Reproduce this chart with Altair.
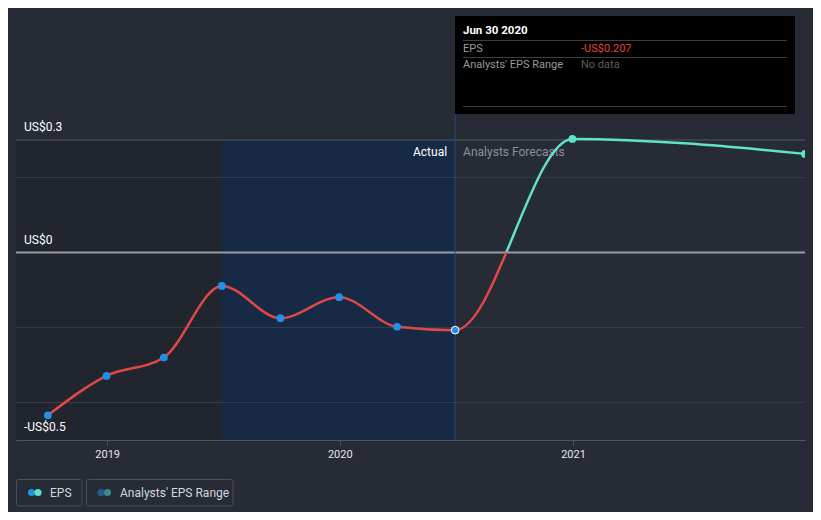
import altair as alt
import pandas as pd

# ---------------- data ----------------
actual_dates = ["2018-09-30", "2018-12-31", "2019-03-31", "2019-06-30",
                "2019-09-30", "2019-12-31", "2020-03-31", "2020-06-30"]
actual_eps = [-0.434, -0.329, -0.280, -0.089, -0.175, -0.119, -0.198, -0.207]
forecast_dates = ["2020-12-31", "2021-12-31"]
forecast_eps = [0.303, 0.263]

grid_major = [0.3]
grid_minor = [0.2, -0.2, -0.4]
zero_line = [0.0]
ylabel_values = [0.3, 0.0, -0.5]
ylabel_texts = ["US$0.3", "US$0", "-US$0.5"]
x_tick_years = [2019, 2020, 2021]

band_past_start, band_past_end = "2018-08-11", "2019-06-30"
band_actual_start, band_actual_end = "2019-06-30", "2020-06-30"
band_top, band_bottom = 0.3, -0.5
split_date = "2020-06-30"

# ---------------- styling ----------------
BG = "#262b36"
RED = "#e04848"
TEAL = "#5fe3c9"
BLUE = "#2290e6"
FONT = "Roboto"

W, H = 789, 432

xscale = alt.Scale(type="utc",
                   domain=[alt.DateTime(year=2018, month=8, date=11, utc=True),
                           alt.DateTime(year=2021, month=12, date=31, utc=True)])
yscale = alt.Scale(domain=[-0.5, 0.652], nice=False, zero=False)
xaxis = alt.Axis(title=None, grid=False,
                 values=[alt.DateTime(year=y, month=1, date=1, utc=True) for y in x_tick_years],
                 format="%Y", labelColor="#e6e6e6", labelFontSize=11, labelFont=FONT,
                 tickColor="#4f545e", tickSize=5, domainColor="#4f545e",
                 labelPadding=3, labelFlush=False)


def X(field):
    return alt.X(field, type="temporal", scale=xscale, axis=xaxis)


def Y(field):
    return alt.Y(field, type="quantitative", scale=yscale, axis=None)


# bands
band_past = alt.Chart(pd.DataFrame({"s": [band_past_start], "e": [band_past_end],
                                    "t": [band_top], "b": [band_bottom]})).mark_rect(
    color="#21252e").encode(x=X("s"), x2="e", y=Y("t"), y2="b")
band_actual = alt.Chart(pd.DataFrame({"s": [band_actual_start], "e": [band_actual_end],
                                      "t": [band_top], "b": [band_bottom]})).mark_rect(
    color="#172a45").encode(x=X("s"), x2="e", y=Y("t"), y2="b")

# gridlines
g_major = alt.Chart(pd.DataFrame({"v": grid_major})).mark_rule(
    color="#51565f", strokeWidth=1).encode(y=Y("v"))
g_minor = alt.Chart(pd.DataFrame({"v": grid_minor})).mark_rule(
    color="#363b46", strokeWidth=1).encode(y=Y("v"))
g_zero = alt.Chart(pd.DataFrame({"v": zero_line})).mark_rule(
    color="#9a9ea6", strokeWidth=2).encode(y=Y("v"))

# y labels
ylabels = alt.Chart(pd.DataFrame({"v": ylabel_values, "t": ylabel_texts})).mark_text(
    align="left", baseline="middle", dy=-13, color="#ffffff", fontSize=12, font=FONT
).encode(x=alt.value(8), y=Y("v"), text="t:N")

# split line
split_rule = alt.Chart(pd.DataFrame({"d": [split_date]})).mark_rule(
    color="#2b4a73", strokeWidth=1).encode(x=X("d"), y=alt.value(106), y2=alt.value(H))

lbl_actual = alt.Chart(pd.DataFrame({"d": [split_date], "v": [band_top], "t": ["Actual"]})).mark_text(
    align="right", baseline="middle", dx=-8, dy=12, color="#ffffff", fontSize=12, font=FONT
).encode(x=X("d"), y=Y("v"), text="t:N")
lbl_fore = alt.Chart(pd.DataFrame({"d": [split_date], "v": [band_top], "t": ["Analysts Forecasts"]})).mark_text(
    align="left", baseline="middle", dx=8, dy=12, color="#8b9099", fontSize=12, font=FONT
).encode(x=X("d"), y=Y("v"), text="t:N")

# EPS line with red below zero / teal above zero
all_dates = actual_dates + forecast_dates
all_eps = actual_eps + forecast_eps
vmax, vmin = max(all_eps), min(all_eps)
zoff = vmax / (vmax - vmin)
grad = alt.LinearGradient(gradient="linear", x1=0, x2=0, y1=0, y2=1, stops=[
    alt.GradientStop(color=TEAL, offset=0),
    alt.GradientStop(color=TEAL, offset=zoff),
    alt.GradientStop(color=RED, offset=zoff),
    alt.GradientStop(color=RED, offset=1),
])
line = alt.Chart(pd.DataFrame({"d": all_dates, "v": all_eps})).mark_line(
    interpolate="monotone", stroke=grad, strokeWidth=2.5).encode(x=X("d"), y=Y("v"))

pts_actual = alt.Chart(pd.DataFrame({"d": actual_dates[:-1], "v": actual_eps[:-1]})).mark_circle(
    color=BLUE, size=60, opacity=1).encode(x=X("d"), y=Y("v"))
pt_last = alt.Chart(pd.DataFrame({"d": actual_dates[-1:], "v": actual_eps[-1:]})).mark_point(
    filled=True, fill=BLUE, stroke="#ffffff", strokeWidth=1, size=60, opacity=1, shape="circle"
).encode(x=X("d"), y=Y("v"))
pts_fore = alt.Chart(pd.DataFrame({"d": forecast_dates, "v": forecast_eps})).mark_circle(
    color=TEAL, size=60, opacity=1, clip=True).encode(x=X("d"), y=Y("v"))


# ---------------- annotations (tooltip + legend) ----------------
def txt(s, x, y, color, size=11, weight="normal", align="left"):
    return alt.Chart(pd.DataFrame({"t": [s]})).mark_text(
        align=align, baseline="middle", color=color, fontSize=size, fontWeight=weight, font=FONT
    ).encode(x=alt.value(x), y=alt.value(y), text="t:N")


def box(x, y, x2, y2, fill, stroke=None, radius=0):
    kw = dict(fill=fill, cornerRadius=radius)
    if stroke:
        kw.update(stroke=stroke, strokeWidth=1)
    return alt.Chart(pd.DataFrame({"a": [0]})).mark_rect(**kw).encode(
        x=alt.value(x), x2=alt.value(x2), y=alt.value(y), y2=alt.value(y2))


def hline(x, x2, y, color):
    return alt.Chart(pd.DataFrame({"a": [0]})).mark_rule(color=color, strokeWidth=1).encode(
        x=alt.value(x), x2=alt.value(x2), y=alt.value(y))


def dot(x, y, color):
    return alt.Chart(pd.DataFrame({"a": [0]})).mark_circle(color=color, size=50, opacity=1).encode(
        x=alt.value(x), y=alt.value(y))


tooltip = [
    box(439, 8, 779, 106, "#000000"),
    txt("Jun 30 2020", 447, 23, "#ffffff", 11.5, "bold"),
    hline(447, 771, 32.5, "#3e3e3e"),
    txt("EPS", 447, 40.5, "#9a9a9a"),
    txt("-US$0.207", 565, 40.5, "#e8413f"),
    hline(447, 771, 49.5, "#3e3e3e"),
    txt("Analysts' EPS Range", 447, 57, "#9a9a9a"),
    txt("No data", 565, 57, "#5e5e5e"),
    hline(447, 771, 98.5, "#3e3e3e"),
]

legend = [
    box(0.5, 471.5, 66, 498, BG, "#4a4f5a", 2),
    box(70.5, 471.5, 217, 498, BG, "#4a4f5a", 2),
    dot(15.5, 484.5, BLUE),
    dot(22, 484.5, TEAL),
    txt("EPS", 34, 484.5, "#d4d7dc", 12),
    dot(85, 484.5, "#255e8e"),
    dot(91.5, 484.5, "#3a8a86"),
    txt("Analysts' EPS Range", 104, 484.5, "#d4d7dc", 12),
]

chart = alt.layer(
    band_past, band_actual, g_minor, g_major, g_zero, split_rule, ylabels,
    lbl_actual, lbl_fore, line, pts_actual, pt_last, pts_fore,
    *tooltip, *legend
).properties(
    width=W, height=H,
    padding={"left": 8, "top": 0, "right": 8, "bottom": 72},
    autosize=alt.AutoSizeParams(type="none"),
    background=BG,
).configure_view(stroke=None)

chart.save("out.html", embed_options={"renderer": "svg", "actions": False})
